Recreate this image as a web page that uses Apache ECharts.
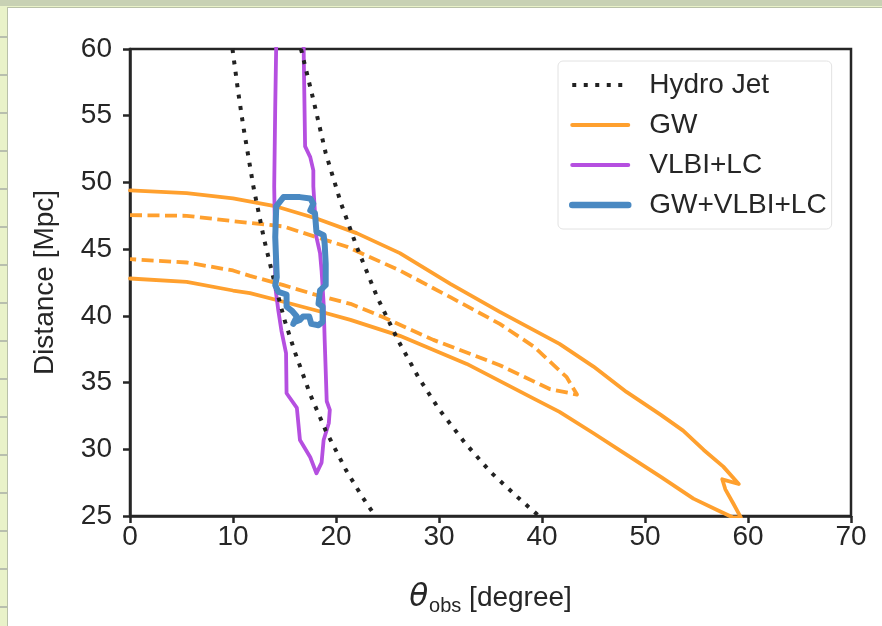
<!DOCTYPE html>
<html>
<head>
<meta charset="utf-8">
<script src="https://cdn.jsdelivr.net/npm/echarts@6/dist/echarts.min.js"></script>
<style>
  html, body { margin: 0; padding: 0; }
  body {
    width: 882px; height: 626px; position: relative; overflow: hidden;
    background: repeating-linear-gradient(to bottom, #e9f2c9 0, #e9f2c9 36px, #b8bfae 36px, #b8bfae 38px);
  }
  .topStrip { position: absolute; left: 0; top: 0; width: 882px; height: 6px; background: #c8d1b4; }
  .sheet {
    position: absolute; left: 7px; top: 7px; right: 0; bottom: 0;
    background: #fff; border-left: 1px solid #b9c1a8; border-top: 1px solid #b9c1a8;
  }
  #chart { position: absolute; left: 0; top: 0; width: 882px; height: 626px; }
</style>
</head>
<body>
<div class="topStrip"></div>
<div class="sheet"></div>
<div id="chart"></div>
<script>
  // axis ticks
  const xTicks = [0, 10, 20, 30, 40, 50, 60, 70]
  const yTicks = [25, 30, 35, 40, 45, 50, 55, 60]

  // hydro jet curves (theta_obs, distance)
  const hydroLeft = [[9.95, 60], [10.5, 56.8], [11.0, 54.2], [12.0, 49.6], [13.0, 45.8], [14.0, 42.6],
    [15.0, 39.7], [16.0, 37.3], [17.5, 34.1], [19.0, 31.4], [21.0, 28.4], [22.5, 26.5], [23.8, 25.0]]
  const hydroRight = [[16.6, 60], [17.8, 56.2], [19.0, 52.2], [20.5, 48.4], [22.0, 45.2], [24.0, 41.4],
    [26.0, 38.2], [28.0, 35.4], [30.0, 33.0], [32.5, 30.5], [35.0, 28.3], [37.5, 26.5], [39.7, 25.0]]

  // GW outer contour (solid) : upper edge, tail, lower edge back
  const gwOuter = [[0, 49.4], [5.5, 49.2], [10.0, 48.8], [14.2, 48.2], [18.1, 47.3], [22.0, 46.2],
    [26.2, 44.7], [31.1, 42.4], [35.9, 40.3], [41.7, 37.9], [45.0, 36.2], [48.2, 34.3], [51.5, 32.6],
    [53.7, 31.4], [55.7, 29.95], [57.6, 28.7], [59.1, 27.4], [57.5, 27.75], [57.8, 27.0], [58.6, 25.9],
    [59.3, 24.9], [58.5, 24.9], [57.0, 25.45], [54.7, 26.3], [51.5, 27.95], [48.2, 29.6], [45.0, 31.2],
    [41.7, 32.8], [39.2, 33.8], [32.7, 36.4], [26.2, 38.5], [21.4, 39.7], [18.1, 40.4], [14.9, 41.06],
    [11.65, 41.7], [10.0, 41.9], [5.5, 42.55], [0, 42.8]]

  // GW inner contour (dashed)
  const gwInner = [[0, 47.55], [5.5, 47.5], [10.0, 47.1], [14.9, 46.7], [18.1, 45.9], [21.0, 45.2],
    [26.2, 43.4], [31.1, 41.4], [35.9, 39.4], [39.2, 37.7], [42.4, 35.4], [43.4, 34.1], [40.8, 34.5],
    [35.9, 36.3], [29.45, 38.2], [24.6, 39.9], [21.4, 40.9], [18.1, 41.56], [14.9, 42.3], [11.65, 43.0],
    [10.0, 43.4], [5.5, 44.0], [0, 44.25]]

  // VLBI+LC contour
  const vlbi = [[14.2, 60.5], [14.1, 55.7], [14.0, 49.7], [14.1, 45.0], [14.1, 42.2], [14.4, 40.4],
    [14.7, 38.9], [15.15, 37.2], [15.2, 34.2], [16.2, 33.1], [16.5, 30.7], [17.5, 29.4], [18.1, 28.2],
    [18.6, 29.0], [18.8, 30.7], [19.3, 31.95], [19.4, 32.95], [19.1, 33.6], [19.0, 35.9], [18.9, 38.2],
    [18.8, 40.9], [18.6, 43.4], [18.45, 44.7], [18.1, 45.9], [17.8, 49.7], [17.8, 50.9], [17.5, 51.9],
    [17.0, 52.7], [16.85, 60.5]]

  // GW+VLBI+LC contour
  const combined = [[14.2, 48.2], [14.9, 48.9], [16.5, 48.9], [17.5, 48.8], [17.8, 48.4], [17.5, 47.9],
    [17.96, 47.7], [18.1, 46.3], [18.8, 46.05], [18.9, 45.4], [19.0, 43.9], [19.0, 42.3], [18.45, 41.9],
    [18.3, 40.9], [18.7, 40.7], [18.7, 39.55], [18.3, 39.3], [17.6, 39.4], [17.4, 39.95], [16.8, 39.95],
    [16.5, 39.7], [16.0, 39.55], [15.85, 39.4], [16.2, 39.95], [15.7, 40.4], [15.2, 40.7], [15.2, 41.6],
    [14.4, 41.8], [14.1, 42.3], [14.25, 42.9], [14.1, 45.9], [14.2, 48.2]]

  const legendNames = ['Hydro Jet', 'GW', 'VLBI+LC', 'GW+VLBI+LC']
  const legendWidths = [4, 4, 4, 6.5]

  const ink = '#262626'
  const orange = '#ffa02e'
  const purple = '#b54fe0'
  const blue = '#4a89c2'
  const font = 'Liberation Sans, Arial, sans-serif'
  const fs = 28

  function lineSeries (name, data, color, width, type, z) {
    return {
      name,
      type: 'line',
      data,
      z,
      symbol: 'none',
      silent: true,
      animation: false,
      lineStyle: { color, width, type, cap: type === 'solid' ? 'round' : 'butt', join: 'round' },
      itemStyle: { color }
    }
  }

  const chart = echarts.init(document.getElementById('chart'), null, { renderer: 'canvas' })

  chart.setOption({
    backgroundColor: 'transparent',
    animation: false,
    textStyle: { fontFamily: font },
    grid: {
      left: 130, top: 49, right: 31, bottom: 110,
      show: true, borderColor: ink, borderWidth: 2.5,
      outerBoundsMode: 'none'
    },
    legend: {
      data: legendNames.map((name, i) => ({
        name,
        itemStyle: { opacity: 0 },
        lineStyle: { width: legendWidths[i] }
      })),
      orient: 'vertical',
      left: 558, top: 61,
      padding: [10, 5, 10, 11],
      itemWidth: 56, itemHeight: 14, itemGap: 12,
      backgroundColor: '#fff',
      borderColor: '#e2e2e2', borderWidth: 1, borderRadius: 5,
      selectedMode: false,
      textStyle: { fontSize: fs, lineHeight: 28, color: ink, fontFamily: font, padding: [0, 0, 0, 16] }
    },
    xAxis: {
      type: 'value', min: xTicks[0], max: xTicks[xTicks.length - 1], interval: 10,
      name: '{t|θ}{s|obs} [degree]',
      nameLocation: 'middle', nameGap: 64,
      nameTextStyle: {
        fontSize: fs, color: ink, fontFamily: font,
        rich: {
          t: { fontSize: 31, fontStyle: 'italic', color: ink, fontFamily: 'DejaVu Sans, sans-serif' },
          s: { fontSize: 20, color: ink, fontFamily: font, padding: [16, 0, 0, 1] }
        }
      },
      axisLine: { lineStyle: { color: ink, width: 2.5 } },
      axisTick: { show: true, length: 7, lineStyle: { color: ink, width: 2.5 } },
      axisLabel: { fontSize: fs, color: ink, margin: 7, fontFamily: font },
      splitLine: { show: false }
    },
    yAxis: {
      type: 'value', min: yTicks[0], max: yTicks[yTicks.length - 1], interval: 5,
      name: 'Distance [Mpc]',
      nameLocation: 'middle', nameGap: 71, nameRotate: 90,
      nameTextStyle: { fontSize: fs, color: ink, fontFamily: font },
      axisLine: { lineStyle: { color: ink, width: 2.5 } },
      axisTick: { show: true, length: 7, lineStyle: { color: ink, width: 2.5 } },
      axisLabel: { fontSize: fs, color: ink, margin: 18, fontFamily: font },
      splitLine: { show: false }
    },
    series: [
      lineSeries('GW', gwOuter, orange, 3.8, 'solid', 2),
      lineSeries('GW', gwInner, orange, 3.8, [12, 5.5], 2),
      lineSeries('VLBI+LC', vlbi, purple, 3.8, 'solid', 3),
      lineSeries('Hydro Jet', hydroLeft, '#222', 4, [4, 7.5], 4),
      lineSeries('Hydro Jet', hydroRight, '#222', 4, [4, 7.5], 4),
      lineSeries('GW+VLBI+LC', combined, blue, 6, 'solid', 5)
    ]
  })
</script>
</body>
</html>
